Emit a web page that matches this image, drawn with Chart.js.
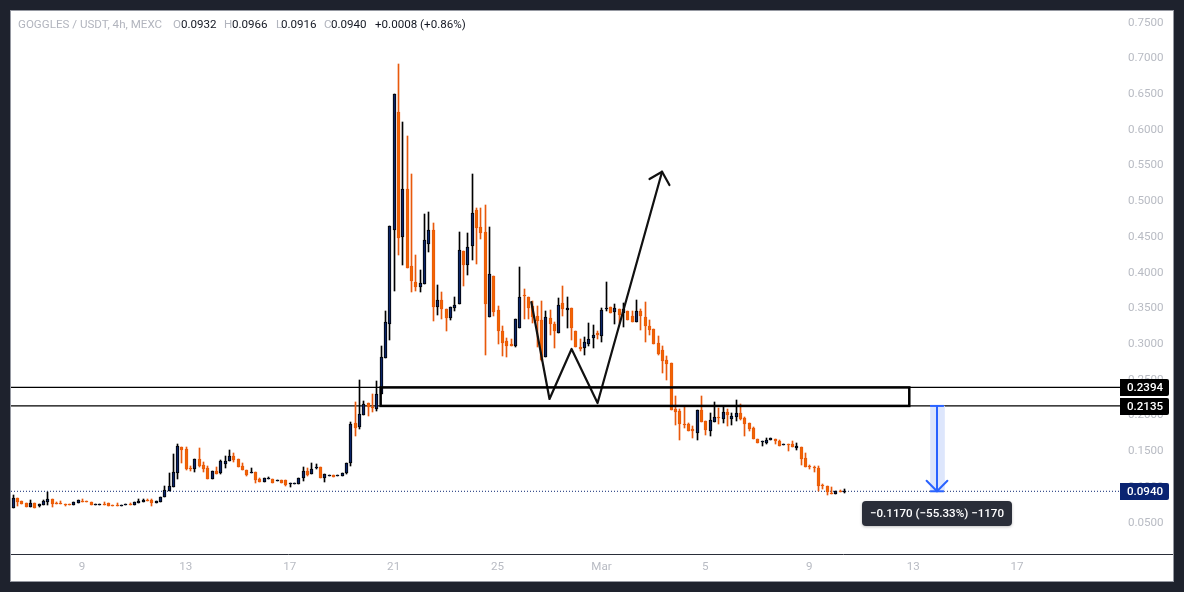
<!DOCTYPE html>
<html><head><meta charset="utf-8">
<script src="https://cdn.jsdelivr.net/npm/chart.js@4/dist/chart.umd.min.js"></script>
<style>
html,body{margin:0;padding:0;background:#1e222d;overflow:hidden}
canvas{position:absolute;left:0;top:0}
</style></head><body>
<canvas id="c" width="1184" height="592"></canvas>
<script>
const firstIndex=-16;
const opens=[.0705,.0845,.0803,.0770,.0719,.0775,.0733,.0747,.0789,.0831,
.0775,.0775,.0761,.0761,.0747,.0775,.0803,.0803,.0789,.0747,
.0747,.0761,.0775,.0747,.0747,.0733,.0747,.0761,.0747,.0775,
.0789,.0817,.0817,.0775,.0789,.0859,.0943,.0999,.1195,.1559,
.1531,.1265,.1251,.1391,.1307,.1265,.1111,.1223,.1195,.1321,
.1363,.1433,.1391,.1293,.1237,.1195,.1209,.1111,.1069,.1111,
.1111,.1083,.1097,.1097,.1041,.1041,.1041,.1125,.1223,.1181,
.1265,.1279,.1125,.1153,.1167,.1153,.1153,.1195,.1335,.1896,
.1840,.2008,.2174,.2118,.2090,.2300,.2804,.3281,.4598,.6249,
.4499,.5171,.4093,.3869,.3799,.3841,.4401,.4598,.3519,.3617,
.3491,.3365,.3505,.3561,.4303,.4107,.4373,.4878,.4640,.4570,
.3379,.3953,.3477,.3183,.3042,.2999,.2972,.3225,.3687,.3659,
.3533,.3393,.3338,.2819,.3366,.3281,.3155,.3576,.3478,.3506,
.3183,.2959,.2945,.3001,.3085,.3155,.3113,.3492,.3520,.3450,
.3492,.3436,.3464,.3394,.3309,.3464,.3380,.3253,.3211,.3015,
.2917,.2777,.2735,.2092,.2064,.1882,.1882,.1812,.1755,.2078,
.1924,.1783,.1910,.1980,.1952,.2050,.1952,.1980,.2036,.1966,
.1896,.1826,.1671,.1629,.1615,.1657,.1671,.1643,.1587,.1601,
.1601,.1545,.1559,.1405,.1293,.1279,.1265,.1022,.1013,.0915,
.0901,.0943,.0932];
const highs=[.0887,.0845,.0803,.0770,.0817,.0775,.0761,.0817,.0929,.0831,
.0789,.0803,.0761,.0761,.0789,.0817,.0831,.0803,.0789,.0761,
.0761,.0789,.0775,.0747,.0775,.0747,.0761,.0775,.0789,.0831,
.0831,.0831,.0831,.0803,.0859,.1013,.1195,.1461,.1601,.1559,
.1559,.1293,.1391,.1545,.1349,.1293,.1223,.1279,.1377,.1433,
.1517,.1475,.1391,.1335,.1237,.1265,.1209,.1125,.1125,.1139,
.1111,.1097,.1097,.1097,.1055,.1055,.1125,.1279,.1265,.1335,
.1321,.1279,.1181,.1167,.1167,.1167,.1195,.1335,.1910,.2190,
.2496,.2204,.2174,.2300,.2482,.2972,.3463,.4654,.6502,.6922,
.6109,.5913,.5381,.4247,.4037,.4822,.4850,.4696,.3827,.3729,
.3491,.3519,.3659,.4570,.4303,.4556,.5381,.4906,.4906,.4948,
.4640,.3953,.3533,.3253,.3084,.3070,.3351,.4079,.3771,.3659,
.3603,.3533,.3604,.3464,.3478,.3309,.3646,.3814,.3660,.3506,
.3183,.3071,.3099,.3295,.3267,.3183,.3506,.3870,.3520,.3562,
.3492,.3576,.3464,.3464,.3618,.3492,.3590,.3338,.3211,.3113,
.2973,.2833,.2735,.2274,.2092,.2120,.1896,.1854,.2078,.2274,
.1924,.2036,.2190,.2106,.2120,.2092,.2036,.2218,.2162,.1980,
.1896,.1840,.1671,.1643,.1685,.1685,.1671,.1657,.1601,.1601,
.1643,.1615,.1559,.1475,.1307,.1293,.1293,.1041,.1013,.0999,
.0943,.0957,.0966];
const lows=[.0705,.0733,.0761,.0719,.0719,.0705,.0719,.0747,.0747,.0719,
.0761,.0761,.0733,.0751,.0747,.0775,.0789,.0789,.0747,.0747,
.0747,.0747,.0733,.0733,.0733,.0733,.0747,.0747,.0747,.0775,
.0789,.0803,.0733,.0775,.0789,.0859,.0943,.0999,.1111,.1335,
.1237,.1223,.1209,.1279,.1209,.1111,.1111,.1181,.1181,.1265,
.1363,.1349,.1279,.1237,.1153,.1195,.1055,.1069,.1069,.1111,
.1055,.1083,.1055,.1013,.0999,.1041,.1041,.1083,.1153,.1181,
.1251,.1125,.1069,.1153,.1139,.1153,.1153,.1181,.1293,.1713,
.1812,.2008,.1992,.2048,.2062,.2300,.2804,.3057,.3743,.4247,
.4107,.4065,.3729,.3743,.3729,.3841,.4289,.3323,.3407,.3351,
.3183,.3337,.3463,.3561,.3813,.3967,.4177,.4121,.4472,.2846,
.3379,.3393,.2999,.2832,.2818,.2972,.2958,.3225,.3351,.3351,
.3295,.2958,.2768,.2819,.3127,.2945,.3155,.3394,.3225,.3057,
.2959,.2903,.2847,.2973,.2945,.3071,.3029,.3464,.3436,.3281,
.3295,.3239,.3338,.3309,.3309,.3197,.3029,.3127,.3001,.2847,
.2595,.2497,.2077,.1868,.1657,.1826,.1783,.1685,.1657,.1910,
.1727,.1713,.1910,.1882,.1896,.1854,.1868,.1924,.1938,.1713,
.1783,.1671,.1615,.1573,.1601,.1657,.1601,.1573,.1587,.1503,
.1559,.1517,.1307,.1279,.1251,.1209,.0943,.0971,.0887,.0901,
.0901,.0934,.0916];
const closes=[.0845,.0789,.0761,.0719,.0775,.0705,.0761,.0803,.0831,.0761,
.0761,.0761,.0747,.0751,.0789,.0817,.0789,.0789,.0747,.0761,
.0761,.0747,.0733,.0733,.0733,.0747,.0761,.0747,.0789,.0803,
.0817,.0803,.0775,.0803,.0859,.0957,.1013,.1209,.1573,.1517,
.1251,.1251,.1391,.1293,.1251,.1111,.1223,.1181,.1363,.1363,
.1433,.1377,.1279,.1237,.1167,.1209,.1097,.1069,.1125,.1125,
.1055,.1097,.1055,.1027,.1055,.1055,.1125,.1223,.1167,.1251,
.1279,.1125,.1181,.1167,.1139,.1167,.1195,.1335,.1882,.1826,
.2022,.2162,.2118,.2104,.2300,.2818,.3309,.4654,.6502,.4485,
.5171,.4065,.3883,.3799,.3855,.4458,.4598,.3519,.3617,.3491,
.3365,.3519,.3547,.4317,.4107,.4359,.4836,.4626,.4556,.3561,
.3981,.3449,.3183,.3014,.2972,.2972,.3351,.3659,.3673,.3505,
.3379,.3323,.2777,.3380,.3281,.3183,.3548,.3492,.3506,.3225,
.2959,.2931,.3029,.3071,.3127,.3127,.3478,.3506,.3436,.3506,
.3408,.3492,.3338,.3309,.3464,.3394,.3253,.3197,.3001,.2861,
.2763,.2721,.2077,.2050,.1882,.1868,.1783,.1783,.2078,.1910,
.1798,.1938,.1980,.1966,.2050,.2008,.1994,.2036,.1952,.1882,
.1812,.1671,.1615,.1643,.1657,.1685,.1643,.1573,.1601,.1587,
.1559,.1573,.1391,.1279,.1279,.1260,.1013,.1008,.0929,.0901,
.0943,.0934,.0940];

const priceTicks=[.05,.10,.15,.20,.25,.30,.35,.40,.45,.50,.55,.60,.65,.70,.75];
const timeTickIndex=[0,24,48,72,96,120,144,168,192,216];
const timeTickLabels=['9','13','17','21','25','Mar','5','9','13','17'];
const zoneTop=.2394, zoneBottom=.2135, lastPrice=.0940;
const zoneLeftIndex=69, zoneRightIndex=191.1;
const patternIndex=[103.8,108,113.1,119.1,134.0];
const patternPrice=[.3590,.2232,.2932,.2176,.5414];
const arrowHeadIndex=[131.1,134.0,135.7];
const arrowHeadPrice=[.5312,.5414,.5228];
const measureIndex=197.5, measureCapIndex=[195.9,199.1];
const measureHeadIndex=[195.1,197.5,199.9];
const measureHeadPrice=[.1088,.0940,.1088];
const measureText='\u22120.1170 (\u221255.33%) \u22121170';
const xMin=-16.38, xMax=239.77, yMin=.0062, yMax=.7664;

const UP='#0a2468', UPB='#000000', DN='#f26500', DNW='#e8590c';
const FONT='Roboto', FS=11.6;
const isUp=opens.map((o,i)=>closes[i]>=o);
const xs=opens.map((_,i)=>firstIndex+i);
const pts=(a,b)=>a.map((x,i)=>({x,y:b[i]}));
const lineDs=(data,color,width,order,extra)=>Object.assign({type:'line',data,borderColor:color,borderWidth:width,pointRadius:0,tension:0,fill:false,order,borderCapStyle:'round',borderJoinStyle:'round'},extra||{});

const snap={id:'snap',afterDatasetsUpdate(ch){
  ch.getSortedVisibleDatasetMetas().forEach(m=>{
    if(m.type!=='bar')return;
    m.data.forEach(el=>{
      el.x=Math.round(el.x)+0.5;
      el.y=Math.round(el.y);el.base=Math.round(el.base);
      if(el.y===el.base)el.base=el.y+1;
    });
  });
}};
const panel={id:'panel',beforeDraw(ch){
  const c=ch.ctx;c.save();
  c.fillStyle='#1e222d';c.fillRect(0,0,1184,592);
  c.fillStyle='#ffffff';c.fillRect(10,10,1164,572);
  c.strokeStyle='#9598a1';c.lineWidth=1;c.strokeRect(10.5,10.5,1163,571);
  c.restore();
}};
const over={id:'over',afterDraw(ch){
  const c=ch.ctx,x=ch.scales.x,y=ch.scales.y;c.save();
  // zone box
  c.strokeStyle='#000';c.lineWidth=2.5;
  const zx0=x.getPixelForValue(zoneLeftIndex),zx1=x.getPixelForValue(zoneRightIndex);
  const zy0=y.getPixelForValue(zoneTop),zy1=y.getPixelForValue(zoneBottom);
  c.strokeRect(zx0,zy0,zx1-zx0,zy1-zy0);
  // axis line extension
  c.strokeStyle='#2a2e39';c.lineWidth=1;c.beginPath();c.moveTo(1121,554.5);c.lineTo(1173,554.5);c.stroke();
  // price labels
  c.textBaseline='middle';c.textAlign='center';
  [[zoneTop,'#000000'],[zoneBottom,'#000000'],[lastPrice,'#0a2472']].forEach(([v,col])=>{
    const py=y.getPixelForValue(v);
    c.fillStyle=col;c.beginPath();c.roundRect(1120,Math.round(py)-8,49,17,[0,2,2,0]);c.fill();
    c.fillStyle='#fff';c.font='500 '+FS+'px '+FONT;c.fillText(v.toFixed(4),1145,Math.round(py)+1);
  });
  // measure tooltip
  const mx=x.getPixelForValue(measureIndex);
  c.shadowColor='rgba(0,0,0,.25)';c.shadowBlur=3;c.shadowOffsetY=1;
  c.fillStyle='#2a2e39';c.beginPath();c.roundRect(mx-75,501,150,25,4);c.fill();
  c.shadowColor='transparent';c.shadowBlur=0;c.shadowOffsetY=0;
  c.fillStyle='#fff';c.font='500 '+FS+'px '+FONT;c.textAlign='center';c.fillText(measureText,mx,514);
  // header legend
  c.textAlign='left';c.font=FS+'px '+FONT;
  const G='#b2b5be',K='#131722';
  [['GOGGLES / USDT, 4h, MEXC',18,G],['O',173,G],['0.0932',181,K],['H',224,G],['0.0966',232,K],['L',276,G],['0.0916',281,K],['C',324,G],['0.0940',331,K],['+0.0008 (+0.86%)',375,K]]
   .forEach(([t,px,col])=>{c.fillStyle=col;c.fillText(t,px,25);});
  c.restore();
}};

new Chart(document.getElementById('c'),{
  type:'bar',
  data:{datasets:[
    {label:'wick',data:pts(xs,highs.map((h,i)=>[lows[i],h])),backgroundColor:isUp.map(u=>u?'#000000':DNW),barThickness:1,grouped:false,order:6,borderWidth:0},
    {label:'body',data:pts(xs,opens.map((o,i)=>[o,closes[i]])),backgroundColor:isUp.map(u=>u?UP:DN),borderColor:isUp.map(u=>u?UPB:DNW),borderWidth:1,borderSkipped:false,barThickness:3,grouped:false,order:5},
    lineDs(pts([xMin,xMax],[zoneTop,zoneTop]),'#000',1.3,8),
    lineDs(pts([xMin,xMax],[zoneBottom,zoneBottom]),'#000',1.3,8),
    lineDs(pts([xMin,xMax],[lastPrice,lastPrice]),'#0a2472',1,7,{borderDash:[1,2],borderCapStyle:'butt'}),
    lineDs(pts(patternIndex,patternPrice),'#111',2.2,3),
    lineDs(pts(arrowHeadIndex,arrowHeadPrice),'#111',2.2,3),
    {label:'measure',data:pts([measureIndex],[[lastPrice,zoneBottom]]),backgroundColor:'#dde6fc',barThickness:14,grouped:false,order:4,borderWidth:0},
    lineDs(pts([measureIndex,measureIndex],[zoneBottom,lastPrice]),'#2962ff',2,2),
    lineDs(pts(measureCapIndex,[zoneBottom,zoneBottom]),'#2962ff',2,2,{borderCapStyle:'butt'}),
    lineDs(pts(measureCapIndex,[lastPrice,lastPrice]),'#2962ff',2,2,{borderCapStyle:'butt'}),
    lineDs(pts(measureHeadIndex,measureHeadPrice),'#2962ff',2,2)
  ]},
  options:{
    responsive:false,animation:false,devicePixelRatio:1,
    layout:{padding:{left:11,top:11,right:0,bottom:0}},
    plugins:{legend:{display:false},tooltip:{enabled:false},title:{display:false}},
    scales:{
      x:{type:'linear',min:xMin,max:xMax,offset:false,
        grid:{display:false,drawTicks:false},
        border:{display:true,color:'#2a2e39',width:1},
        afterBuildTicks(s){s.ticks=timeTickIndex.map(value=>({value}));},
        afterFit(s){s.height=38;s.paddingLeft=0;s.paddingRight=0;},
        ticks:{autoSkip:false,maxRotation:0,padding:6,color:'#b8bbc3',font:{family:FONT,size:FS},
          callback:v=>timeTickLabels[timeTickIndex.indexOf(v)]}},
      y:{type:'linear',position:'right',min:yMin,max:yMax,
        grid:{display:false,drawTicks:false},border:{display:false},
        afterBuildTicks(s){s.ticks=priceTicks.map(value=>({value}));},
        afterFit(s){s.width=64;s.paddingTop=0;s.paddingBottom=0;},
        ticks:{padding:8,color:'#b8bbc3',font:{family:FONT,size:FS},callback:v=>v.toFixed(4)}}
    }
  },
  plugins:[panel,snap,over]
});
</script></body></html>
